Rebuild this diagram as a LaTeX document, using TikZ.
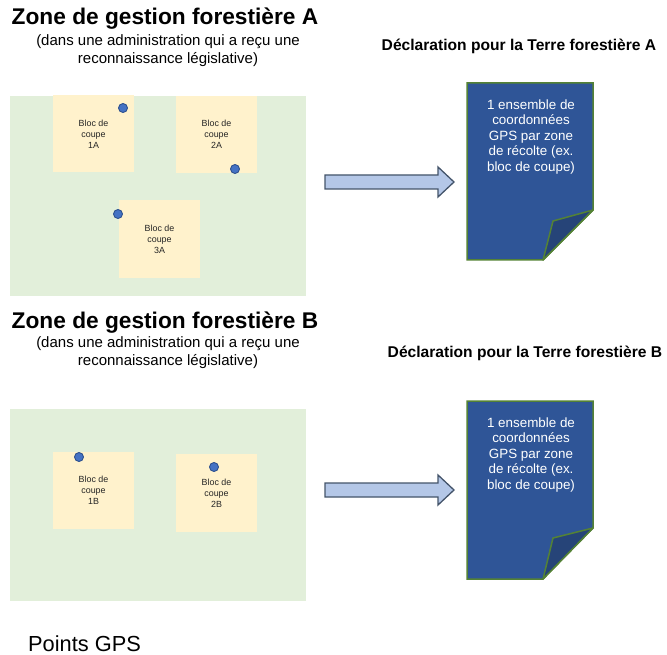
\documentclass[tikz,border=0pt]{standalone}
\usepackage{fontspec}
\setmainfont{Liberation Sans}
\definecolor{zonegreen}{HTML}{E2EFDA}
\definecolor{blocyellow}{HTML}{FFF2CC}
\definecolor{gpsblue}{HTML}{4472C4}
\definecolor{gpsedge}{HTML}{2F528F}
\definecolor{arrowfill}{HTML}{B4C7E7}
\definecolor{arrowedge}{HTML}{44546A}
\definecolor{docblue}{HTML}{2F5597}
\definecolor{docfold}{HTML}{264478}
\definecolor{docedge}{HTML}{548235}
\begin{document}
\begin{tikzpicture}[x=1pt,y=-1pt,
  zone/.style={fill=zonegreen, draw=none, minimum width=296pt, inner sep=0pt},
  bloc/.style={fill=blocyellow, draw=none, minimum width=81pt, minimum height=77pt,
    inner sep=0pt, align=center, text=black!85, font=\fontsize{8.9}{11}\selectfont},
  gps/.style={circle, fill=gpsblue, draw=gpsedge, line width=0.9pt,
    minimum size=9pt, inner sep=0pt},
  titre/.style={anchor=base, inner sep=0pt, font=\bfseries\fontsize{22.7}{27}\selectfont},
  soustitre/.style={anchor=base, inner sep=0pt, font=\fontsize{15}{18}\selectfont},
  decl/.style={anchor=base, inner sep=0pt, font=\bfseries\fontsize{15.6}{19}\selectfont},
  doctext/.style={anchor=north, inner sep=0pt, align=center, text=white,
    font=\fontsize{13.4}{15.5}\selectfont},
  docshape/.style={fill=docblue, draw=docedge, line width=1.5pt, line join=miter},
  foldshape/.style={fill=docfold, draw=docedge, line width=1.5pt, line join=round},
  blockarrow/.style={fill=arrowfill, draw=arrowedge, line width=1.3pt, line join=miter}
]
\useasboundingbox (0,0) rectangle (667,655);

% ---------- Zone A ----------
\node[titre] (titreA) at (165,25) {Zone de gestion forestière A};
\node[soustitre] (sousA1) at (168,46) {(dans une administration qui a reçu une};
\node[soustitre] (sousA2) at (168,64) {reconnaissance législative)};

\node[zone, minimum height=200pt] (zoneA) at (158,196) {};
\node[bloc] (bloc1A) at (93.5,134) {Bloc de\\coupe\\1A};
\node[bloc] (bloc2A) at (216.5,134.5) {Bloc de\\coupe\\2A};
\node[bloc, minimum height=78pt] (bloc3A) at (159.5,239) {Bloc de\\coupe\\3A};
\node[gps] (gps1A) at (123,108) {};
\node[gps] (gps2A) at (235,169) {};
\node[gps] (gps3A) at (118,214) {};

% ---------- Zone B ----------
\node[titre] (titreB) at (165,328) {Zone de gestion forestière B};
\node[soustitre] (sousB1) at (168,347) {(dans une administration qui a reçu une};
\node[soustitre] (sousB2) at (168,365) {reconnaissance législative)};

\node[zone, minimum height=192pt] (zoneB) at (158,505) {};
\node[bloc] (bloc1B) at (93.5,490.5) {Bloc de\\coupe\\1B};
\node[bloc, minimum height=78pt] (bloc2B) at (216.5,493) {Bloc de\\coupe\\2B};
\node[gps] (gps1B) at (79,457) {};
\node[gps] (gps2B) at (214,467) {};

% ---------- Declaration A ----------
\node[decl] (declA) at (519,50.5) {Déclaration pour la Terre forestière A};
\coordinate (aA) at (325,182);
\path[blockarrow] (aA) ++(0,-7) -- ++(113,0) -- ++(0,-8) -- (454,182)
  -- (438,197) -- ++(0,-8) -- (325,189) -- cycle;
\path[docshape] (467,83) coordinate (docA) -- (593,83) -- (593,210) coordinate (docAr)
  -- (543,260) coordinate (docAb) -- (467,260) -- cycle;
\path[foldshape] (docAr) -- (553,221) -- (docAb) -- cycle;
\node[doctext] (docAtxt) at (531,99.5)
  {1 ensemble de\\coordonnées\\GPS par zone\\de récolte (ex.\\bloc de coupe)};

% ---------- Declaration B ----------
\node[decl] (declB) at (525,357) {Déclaration pour la Terre forestière B};
\coordinate (aB) at (325,490);
\path[blockarrow] (aB) ++(0,-7) -- ++(113,0) -- ++(0,-8) -- (454,490)
  -- (438,505) -- ++(0,-8) -- (325,497) -- cycle;
\path[docshape] (467,401) coordinate (docB) -- (593,401) -- (593,528) coordinate (docBr)
  -- (543,579) coordinate (docBb) -- (467,579) -- cycle;
\path[foldshape] (docBr) -- (553,538) -- (docBb) -- cycle;
\node[doctext] (docBtxt) at (531,417.5)
  {1 ensemble de\\coordonnées\\GPS par zone\\de récolte (ex.\\bloc de coupe)};

% ---------- Legend ----------
\node[anchor=base west, inner sep=0pt, font=\fontsize{21.8}{25}\selectfont]
  (legende) at (28,651.5) {Points GPS};
\end{tikzpicture}
\end{document}
